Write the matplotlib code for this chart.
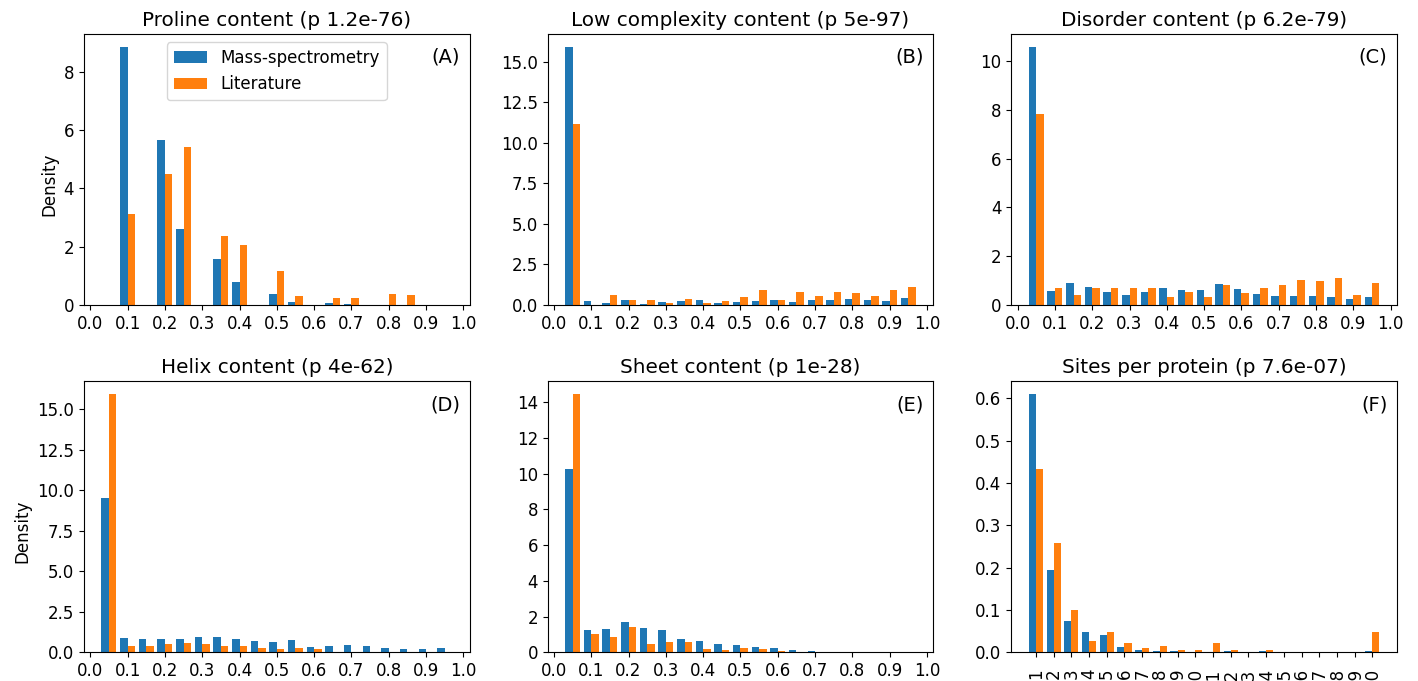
import numpy as np
import matplotlib
matplotlib.use("Agg")
import matplotlib.pyplot as plt

#############################
# DATA
#############################

labels = ["Mass-spectrometry", "Literature"]
titles = ["Proline content (p 1.2e-76)", "Low complexity content (p 5e-97)",
          "Disorder content (p 6.2e-79)", "Helix content (p 4e-62)",
          "Sheet content (p 1e-28)", "Sites per protein (p 7.6e-07)"]
tags = ["(A)", "(B)", "(C)", "(D)", "(E)", "(F)"]

# densities per bin, bins drawn at 0.05, 0.10, ... 0.95
proline_ms = [0, 8.86, 0, 5.67, 2.61, 0, 1.56, 0.78, 0, 0.37, 0.10, 0, 0.05, 0.02, 0, 0, 0, 0, 0]
proline_lit = [0, 3.13, 0, 4.50, 5.42, 0, 2.37, 2.05, 0, 1.15, 0.29, 0, 0.22, 0.22, 0, 0.37, 0.35, 0, 0]

lowc_ms = [15.93, 0.25, 0.14, 0.27, 0.08, 0.16, 0.25, 0.31, 0.14, 0.19, 0.21, 0.31, 0.16, 0.27, 0.31, 0.37, 0.27, 0.21, 0.41]
lowc_lit = [11.17, 0.0, 0.62, 0.29, 0.27, 0.12, 0.37, 0.14, 0.21, 0.47, 0.93, 0.29, 0.82, 0.56, 0.82, 0.72, 0.52, 0.93, 1.09]

disorder_ms = [10.58, 0.58, 0.89, 0.74, 0.52, 0.41, 0.53, 0.71, 0.62, 0.60, 0.86, 0.64, 0.44, 0.38, 0.36, 0.36, 0.32, 0.25, 0.34]
disorder_lit = [7.81, 0.68, 0.41, 0.68, 0.68, 0.68, 0.68, 0.34, 0.51, 0.34, 0.82, 0.48, 0.68, 0.82, 1.03, 0.96, 1.10, 0.41, 0.89]

helix_ms = [9.52, 0.87, 0.82, 0.84, 0.82, 0.95, 0.97, 0.80, 0.72, 0.66, 0.76, 0.35, 0.39, 0.45, 0.37, 0.29, 0.19, 0.19, 0.25]
helix_lit = [15.91, 0.39, 0.39, 0.52, 0.60, 0.49, 0.39, 0.39, 0.25, 0.19, 0.25, 0.19, 0.04, 0, 0.03, 0.02, 0, 0, 0]

sheet_ms = [10.23, 1.23, 1.31, 1.70, 1.34, 1.27, 0.73, 0.63, 0.47, 0.43, 0.28, 0.24, 0.15, 0.05, 0.04, 0, 0, 0, 0]
sheet_lit = [14.43, 1.01, 0.86, 1.40, 0.49, 0.56, 0.58, 0.21, 0.15, 0.24, 0.19, 0.06, 0, 0, 0, 0, 0, 0, 0]

# sites per protein 1 ... 20
sites_ms = [0.609, 0.195, 0.075, 0.047, 0.040, 0.013, 0.006, 0.002, 0.002, 0, 0, 0.004, 0.001, 0.002, 0.001, 0.001, 0, 0, 0.001, 0.002]
sites_lit = [0.434, 0.257, 0.100, 0.027, 0.047, 0.021, 0.011, 0.016, 0.006, 0.006, 0.021, 0.006, 0, 0.006, 0, 0, 0, 0, 0, 0.047]

#############################
# PLOT
#############################

plt.rcParams["font.size"] = 12

frac_bins = np.linspace(0, 0.95, 20)
site_bins = np.arange(0, 21)

panels = [(proline_ms, proline_lit, frac_bins), (lowc_ms, lowc_lit, frac_bins),
          (disorder_ms, disorder_lit, frac_bins), (helix_ms, helix_lit, frac_bins),
          (sheet_ms, sheet_lit, frac_bins), (sites_ms, sites_lit, site_bins)]

fig, axes = plt.subplots(2, 3, figsize=(14.18, 6.81), dpi=100)
fig.subplots_adjust(left=0.0592, right=0.9852, bottom=0.0421, top=0.9501,
                    wspace=0.202, hspace=0.283)

for i, ax in enumerate(axes.flat):
    ms, lit, bins = panels[i]
    mids = (bins[:-1] + bins[1:]) / 2
    ax.hist([mids, mids], bins=bins, weights=[ms, lit], align="right",
            color=["#1f77b4", "#ff7f0e"], label=labels)
    ax.set_title(titles[i])
    ax.text(0.975, 0.915, tags[i], transform=ax.transAxes, ha="right",
            va="center", fontsize=14)
    if i < 5:
        ax.set_xticks(np.round(np.arange(0, 1.01, 0.1), 1))
    else:
        # two-digit labels run past the bottom edge, as in the original
        ax.set_xticks(range(1, 21))
        ax.set_xticklabels([str(n) for n in range(1, 21)], rotation=90)
        ax.tick_params(axis="x", pad=8)

for ax in axes[:, 0]:
    ax.set_ylabel("Density")
    ax.yaxis.label.set_y(0.445)
axes[0, 0].legend(loc="upper center")

plt.savefig("out.png", dpi=100)
plt.close(fig)
